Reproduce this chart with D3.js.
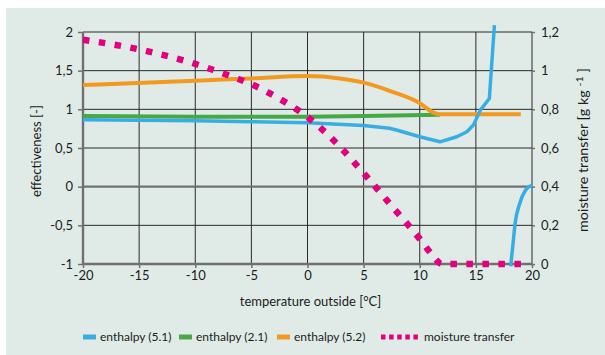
<!DOCTYPE html>
<html>
<head>
<meta charset="utf-8">
<script src="https://cdn.jsdelivr.net/npm/d3@7"></script>
<style>
  body { margin: 0; background: #fff; }
  text { font-family: Lato, "Open Sans", sans-serif; fill: #1c1c1c; }
</style>
</head>
<body>
<svg id="chart"></svg>
<script>
// temperature outside [°C] vs. effectiveness [-] (left) and moisture transfer (right)
const enthalpy51 = [
  [-20, 0.865], [-10, 0.853], [-5, 0.84], [0, 0.825], [5, 0.79], [7.3, 0.755],
  [8, 0.73], [10, 0.645], [11.8, 0.58], [13.3, 0.645], [14.2, 0.71], [14.8, 0.8],
  [15.4, 0.99], [16.2, 1.14], [16.65, 2.09]
];
const enthalpy51b = [
  [18.1, -1.03], [18.3, -0.75], [18.5, -0.47], [18.9, -0.22], [19.4, -0.05], [20, 0.02]
];
const enthalpy21 = [
  [-20, 0.915], [-10, 0.905], [0, 0.905], [5, 0.915], [11.8, 0.93]
];
const enthalpy52 = [
  [-20, 1.315], [-10, 1.37], [-5, 1.40], [0, 1.43], [2.9, 1.40], [5, 1.345],
  [7.5, 1.23], [10, 1.08], [11.06, 0.97], [11.8, 0.935], [19, 0.935]
];
const moisture = [
  [-20, 1.16], [-15, 1.11], [-10, 1.035], [-7.5, 0.985], [-5, 0.93], [-2.5, 0.855],
  [0, 0.76], [2.5, 0.63], [5, 0.47], [7.5, 0.30], [10, 0.13], [11, 0.055], [12, 0], [19.5, 0]
];

const xTicks = [-20, -15, -10, -5, 0, 5, 10, 15, 20];
const leftTicks = [-1, -0.5, 0, 0.5, 1, 1.5, 2];
const rightTicks = [0, 0.2, 0.4, 0.6, 0.8, 1, 1.2];

const legendItems = [
  { name: "enthalpy (5.1)", color: "#38ade2", dashed: false },
  { name: "enthalpy (2.1)", color: "#47a846", dashed: false },
  { name: "enthalpy (5.2)", color: "#f3991f", dashed: false },
  { name: "moisture transfer", color: "#e4007c", dashed: true }
];

const width = 605;
const height = 355;
const margin = { top: 32, right: 73, bottom: 91, left: 83 };

const svg = d3.select("#chart")
  .attr("width", width)
  .attr("height", height);

svg.append("rect")
  .attr("x", 6).attr("y", 8)
  .attr("width", width - 6).attr("height", height - 8)
  .attr("fill", "#e0ebe8");

const x = d3.scaleLinear().domain([-20, 20]).range([margin.left, width - margin.right]);
const y = d3.scaleLinear().domain([-1, 2]).range([height - margin.bottom, margin.top]);
const y2 = d3.scaleLinear().domain([0, 1.2]).range([height - margin.bottom, margin.top]);

const comma = d => d3.format(".1f")(d)
  .replace("\u2212", "-").replace(".0", "").replace(".", ",");

// grid
const grid = svg.append("g").attr("stroke", "#2a2a2a").attr("stroke-width", 1);
grid.selectAll(".vx").data(xTicks.slice(1)).join("line")
  .attr("x1", d => x(d)).attr("x2", d => x(d))
  .attr("y1", y(-1)).attr("y2", y(2));
grid.selectAll(".hy").data(leftTicks.filter(d => d !== -1 && d !== 0)).join("line")
  .attr("x1", x(-20)).attr("x2", x(20))
  .attr("y1", d => y(d)).attr("y2", d => y(d));

// heavier axis lines
const axisLines = svg.append("g").attr("stroke", "#707070").attr("stroke-width", 2.4);
axisLines.append("line").attr("x1", x(-20)).attr("x2", x(20)).attr("y1", y(0)).attr("y2", y(0));
axisLines.append("line").attr("x1", x(-20)).attr("x2", x(20)).attr("y1", y(-1)).attr("y2", y(-1));
axisLines.append("line").attr("x1", x(-20)).attr("x2", x(-20)).attr("y1", y(-1)).attr("y2", y(2));

const styleAxis = g => {
  g.select(".domain").remove();
  g.selectAll(".tick line").attr("stroke", "#707070").attr("stroke-width", 1.5);
  g.selectAll("text").attr("font-size", "13px").attr("fill", "#1c1c1c");
};

svg.append("g")
  .attr("transform", `translate(${x(-20)},0)`)
  .call(d3.axisLeft(y).tickValues(leftTicks).tickSize(5).tickPadding(5).tickFormat(comma))
  .call(styleAxis);

svg.append("g")
  .attr("transform", `translate(0,${y(-1)})`)
  .call(d3.axisBottom(x).tickValues(xTicks).tickSize(4).tickPadding(3).tickFormat(d => String(d)))
  .call(styleAxis);

svg.append("g")
  .attr("transform", `translate(${x(20)},0)`)
  .call(d3.axisRight(y2).tickValues(rightTicks).tickSize(3).tickPadding(6).tickFormat(comma))
  .call(styleAxis);

// axis titles
svg.append("text")
  .attr("x", x(0) + 3).attr("y", 306)
  .attr("text-anchor", "middle")
  .attr("font-size", "13px")
  .text("temperature outside [°C]");

svg.append("text")
  .attr("transform", `translate(41,151) rotate(-90)`)
  .attr("text-anchor", "middle")
  .attr("font-size", "13px")
  .attr("textLength", 92)
  .attr("lengthAdjust", "spacingAndGlyphs")
  .text("effectiveness [-]");

// right title has a superscript, so squeeze it to the reference length with a scale
const rt = svg.append("text")
  .attr("text-anchor", "middle")
  .attr("font-size", "13px");
rt.append("tspan").text("moisture transfer [g kg ");
rt.append("tspan").attr("dy", -5).attr("font-size", "10px").text("-1");
rt.append("tspan").attr("dy", 5).text(" ]");
const rtWidth = rt.node().getBBox().width || 164;
rt.attr("transform", `translate(588,150) rotate(-90) scale(${164 / rtWidth},1)`);

// series
const line = d3.line().x(d => x(d[0])).y(d => y(d[1]));
const line2 = d3.line().x(d => x(d[0])).y(d => y2(d[1])).curve(d3.curveMonotoneX);

const plot = svg.append("g").attr("fill", "none").attr("stroke-linejoin", "round");
plot.append("path").datum(enthalpy21).attr("d", line)
  .attr("stroke", legendItems[1].color).attr("stroke-width", 4);
plot.append("path").datum(enthalpy52).attr("d", line.curve(d3.curveMonotoneX))
  .attr("stroke", legendItems[2].color).attr("stroke-width", 4);
line.curve(d3.curveLinear);
plot.append("path").datum(enthalpy51).attr("d", line)
  .attr("stroke", legendItems[0].color).attr("stroke-width", 3.5);
plot.append("path").datum(enthalpy51b).attr("d", line.curve(d3.curveMonotoneX))
  .attr("stroke", legendItems[0].color).attr("stroke-width", 3.5);
plot.append("path").datum(moisture).attr("d", line2)
  .attr("stroke", legendItems[3].color).attr("stroke-width", 6.5)
  .attr("stroke-dasharray", "6.5,9.5");

// legend
const legendX = [83, 179, 277, 381];
const legend = svg.append("g").attr("transform", "translate(0,337)");
legendItems.forEach((item, i) => {
  const g = legend.append("g").attr("transform", `translate(${legendX[i]},0)`);
  if (item.dashed) {
    g.append("line").attr("x1", 0).attr("x2", 37).attr("y1", 0).attr("y2", 0)
      .attr("stroke", item.color).attr("stroke-width", 5)
      .attr("stroke-dasharray", "4.5,3.6");
    g.append("text").attr("x", 43).attr("y", 4).attr("font-size", "12px").text(item.name);
  } else {
    g.append("rect").attr("x", 0).attr("y", -2.5).attr("width", 13).attr("height", 5)
      .attr("fill", item.color);
    g.append("text").attr("x", 17).attr("y", 4).attr("font-size", "12px").text(item.name);
  }
});
</script>
</body>
</html>
